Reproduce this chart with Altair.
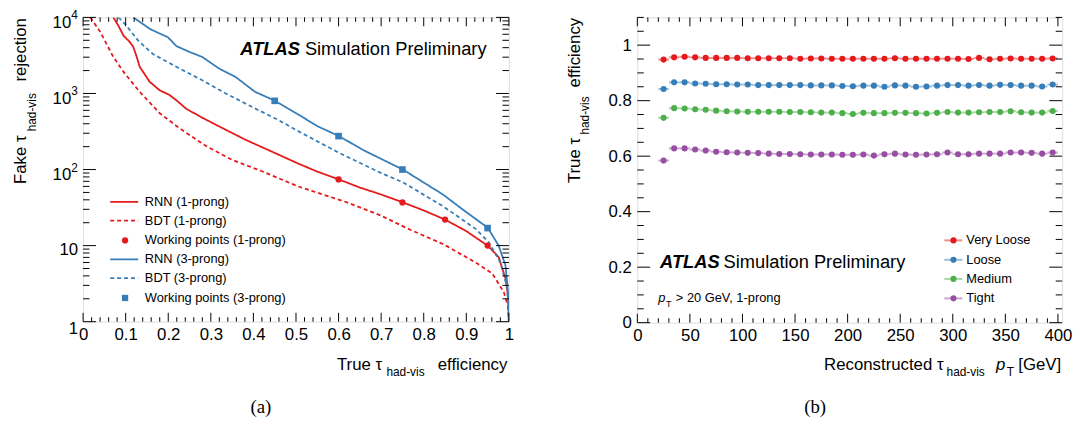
import altair as alt
import pandas as pd

# ---------------- data : panel (a) ROC curves ----------------
rnn1_eff = [0.071, 0.083, 0.095, 0.110, 0.118, 0.126, 0.133, 0.141, 0.156, 0.180, 0.203, 0.219,
            0.242, 0.280, 0.319, 0.381, 0.458, 0.505, 0.550, 0.601, 0.650, 0.700, 0.751, 0.800,
            0.850, 0.900, 0.950, 0.976, 0.992, 0.999, 1.0]
rnn1_rej = [10000, 7760, 5750, 4730, 4080, 3020, 2240, 1920, 1430, 1100, 955, 815,
            630, 480, 370, 247, 158, 120, 94, 74, 58, 47, 37, 29,
            22, 15.5, 10, 7.1, 3.7, 2.0, 1.0]

bdt1_eff = [0.017, 0.041, 0.071, 0.095, 0.133, 0.180, 0.226, 0.288, 0.350, 0.420, 0.505, 0.620,
            0.698, 0.767, 0.845, 0.922, 0.961, 0.988, 0.998, 1.0]
bdt1_rej = [10000, 6350, 3020, 1920, 1050, 550, 350, 205, 134, 95, 60, 37,
            25, 16.3, 10.5, 6.0, 4.3, 2.45, 1.6, 1.0]

rnn3_eff = [0.118, 0.157, 0.178, 0.199, 0.219, 0.250, 0.280, 0.319, 0.358, 0.404, 0.451, 0.505,
            0.551, 0.601, 0.659, 0.751, 0.845, 0.891, 0.934, 0.950, 0.976, 0.992, 0.998, 1.0]
rnn3_rej = [10000, 7050, 6200, 5500, 4200, 3510, 3020, 2130, 1650, 1050, 800, 530,
            370, 275, 179, 100, 47, 30, 20, 17.3, 10, 5.5, 2.5, 1.0]

bdt3_eff = [0.083, 0.102, 0.130, 0.164, 0.219, 0.280, 0.335, 0.404, 0.458, 0.505, 0.601, 0.698,
            0.751, 0.845, 0.922, 0.953, 0.980, 0.996, 1.0]
bdt3_rej = [10000, 7770, 4900, 3300, 2240, 1490, 1000, 635, 450, 320, 166, 91,
            68, 33, 16.6, 11, 6, 2.8, 1.0]

wp1_eff = [0.60, 0.75, 0.85, 0.95]
wp1_rej = [74, 37, 22, 10]
wp3_eff = [0.45, 0.60, 0.75, 0.95]
wp3_rej = [800, 275, 100, 17]

curve_names = ["RNN (1-prong)", "BDT (1-prong)", "RNN (3-prong)", "BDT (3-prong)"]
legend_a = ["RNN (1-prong)", "BDT (1-prong)", "Working points (1-prong)",
            "RNN (3-prong)", "BDT (3-prong)", "Working points (3-prong)"]

# ---------------- data : panel (b) efficiency vs pT ----------------
pt_centers = list(range(25, 400, 10))
eff_very_loose = [0.948, 0.956, 0.958, 0.956, 0.954, 0.954, 0.954, 0.954, 0.953, 0.953, 0.953, 0.953, 0.953,
                  0.951, 0.952, 0.952, 0.951, 0.951, 0.951, 0.951, 0.951, 0.951, 0.953, 0.951, 0.951, 0.951,
                  0.951, 0.951, 0.951, 0.950, 0.954, 0.949, 0.951, 0.952, 0.951, 0.951, 0.951, 0.952]
eff_loose = [0.842, 0.866, 0.866, 0.862, 0.861, 0.859, 0.859, 0.858, 0.858, 0.856, 0.856, 0.856, 0.856,
             0.856, 0.855, 0.855, 0.855, 0.853, 0.852, 0.854, 0.854, 0.850, 0.855, 0.854, 0.850, 0.851,
             0.854, 0.856, 0.856, 0.854, 0.856, 0.854, 0.857, 0.856, 0.854, 0.854, 0.851, 0.858]
eff_medium = [0.738, 0.773, 0.772, 0.769, 0.767, 0.764, 0.762, 0.761, 0.760, 0.760, 0.760, 0.760, 0.759,
              0.759, 0.758, 0.757, 0.757, 0.755, 0.752, 0.756, 0.755, 0.755, 0.756, 0.756, 0.755, 0.754,
              0.756, 0.759, 0.757, 0.757, 0.758, 0.759, 0.759, 0.762, 0.758, 0.757, 0.757, 0.763]
eff_tight = [0.584, 0.628, 0.628, 0.624, 0.620, 0.616, 0.614, 0.613, 0.612, 0.611, 0.609, 0.608, 0.608,
             0.607, 0.606, 0.606, 0.606, 0.605, 0.605, 0.606, 0.602, 0.607, 0.609, 0.606, 0.605, 0.606,
             0.607, 0.613, 0.607, 0.607, 0.609, 0.609, 0.609, 0.613, 0.613, 0.612, 0.609, 0.613]
wp_names = ["Very Loose", "Loose", "Medium", "Tight"]

# ---------------- axis tick values ----------------
a_x_major = [0, 0.1, 0.2, 0.3, 0.4, 0.5, 0.6, 0.7, 0.8, 0.9, 1]
a_x_minor = [round(i * 0.02, 2) for i in range(51) if i % 5 != 0]
a_y_major = [1, 10, 100, 1000, 10000]
a_y_minor = [m * d for d in [1, 10, 100, 1000] for m in range(2, 10)]
b_x_major = [0, 50, 100, 150, 200, 250, 300, 350, 400]
b_x_minor = [v for v in range(10, 401, 10) if v % 50 != 0]
b_y_major = [0, 0.2, 0.4, 0.6, 0.8, 1]
b_y_minor = [round(i * 0.05, 2) for i in range(23) if i % 4 != 0]

# ---------------- style ----------------
FONT = "Liberation Sans"
SERIF = "Liberation Serif"
RED, BLUE, GREEN, PURPLE = "#e41a1c", "#377eb8", "#4daf4a", "#984ea3"
WA, HA = 431, 308
WB, HB = 430, 309


def txt(s, x, y, size=17, align="left", baseline="alphabetic", angle=0, font=FONT,
        weight="normal", style="normal", color="black"):
    kw = dict(align=align, baseline=baseline, font=font, fontSize=size, fontWeight=weight,
              fontStyle=style, color=color)
    if angle:
        kw["angle"] = angle
    return alt.Chart(pd.DataFrame({"t": [s]})).mark_text(**kw).encode(
        x=alt.value(x), y=alt.value(y), text="t:N")


def tick_layers(xs, ys, axx, axy, W, H, xmaj, xmin, ymaj, ymin, xlen, ylen):
    out = []
    for vals, L in [(xmaj, xlen), (xmin, xlen / 2)]:
        base = alt.Chart(pd.DataFrame({"v": vals})).mark_rule(color="black", strokeWidth=1)
        xe = alt.X("v:Q", scale=xs, axis=axx)
        out.append(base.encode(x=xe, y=alt.value(H), y2=alt.value(H - L)))
        out.append(base.encode(x=xe, y=alt.value(0), y2=alt.value(L)))
    for vals, L in [(ymaj, ylen), (ymin, ylen / 2)]:
        base = alt.Chart(pd.DataFrame({"v": vals})).mark_rule(color="black", strokeWidth=1)
        ye = alt.Y("v:Q", scale=ys, axis=axy)
        out.append(base.encode(y=ye, x=alt.value(0), x2=alt.value(L)))
        out.append(base.encode(y=ye, x=alt.value(W), x2=alt.value(W - L)))
    return out


# ================= panel (a) =================
xsA = alt.Scale(domain=[0, 1], nice=False, zero=False)
ysA = alt.Scale(type="log", domain=[1, 10000], nice=False)

axA_x = alt.Axis(values=a_x_major, format="~g", ticks=False, domain=False, grid=False,
                 labelFont=FONT, labelFontSize=17, labelColor="black", labelPadding=5,
                 labelFlush=False, labelOverlap=False, title=None)

frames = []
for name, e, r in zip(curve_names, [rnn1_eff, bdt1_eff, rnn3_eff, bdt3_eff],
                      [rnn1_rej, bdt1_rej, rnn3_rej, bdt3_rej]):
    frames.append(pd.DataFrame({"eff": e, "rej": r, "curve": name, "idx": range(len(e))}))
curves = pd.concat(frames, ignore_index=True)

lines = alt.Chart(curves).mark_line(strokeWidth=1.8, clip=True).encode(
    x=alt.X("eff:Q", scale=xsA, axis=axA_x),
    y=alt.Y("rej:Q", scale=ysA, axis=None),
    color=alt.Color("curve:N", scale=alt.Scale(domain=curve_names, range=[RED, RED, BLUE, BLUE]), legend=None),
    strokeDash=alt.StrokeDash("curve:N", scale=alt.Scale(domain=curve_names,
                              range=[[1, 0], [4, 3], [1, 0], [4, 3]]), legend=None),
    order=alt.Order("idx:Q"),
)
wp1 = alt.Chart(pd.DataFrame({"eff": wp1_eff, "rej": wp1_rej})).mark_point(
    shape="circle", filled=True, size=40, color=RED, opacity=1).encode(
    x=alt.X("eff:Q", scale=xsA, axis=axA_x), y=alt.Y("rej:Q", scale=ysA, axis=None))
wp3 = alt.Chart(pd.DataFrame({"eff": wp3_eff, "rej": wp3_rej})).mark_point(
    shape="square", filled=True, size=45, color=BLUE, opacity=1).encode(
    x=alt.X("eff:Q", scale=xsA, axis=axA_x), y=alt.Y("rej:Q", scale=ysA, axis=None))

# y labels of the log axis (10 with exponent)
def ylab(vals, texts, x, dy, size, align):
    return alt.Chart(pd.DataFrame({"v": vals, "t": texts})).mark_text(
        align=align, baseline="alphabetic", font=FONT, fontSize=size, dy=dy, color="black").encode(
        x=alt.value(x), y=alt.Y("v:Q", scale=ysA, axis=None), text="t:N")

ylab_plain = ylab([1], ["1"], -5, 12, 17, "right")
ylab_ten = ylab([10], ["10"], -5, 9, 17, "right")
ylab_base = ylab([100, 1000, 10000], ["10", "10", "10"], -12, 11, 17, "right")
ylab_exp = ylab([100, 1000, 10000], ["2", "3", "4"], -12, 2, 12, "left")

layers_a = [lines, wp1, wp3, ylab_plain, ylab_ten, ylab_base, ylab_exp]
layers_a += tick_layers(xsA, ysA, axA_x, None, WA, HA, a_x_major, a_x_minor, a_y_major, a_y_minor, 9, 13)

# legend (a)
rows_a = [186.7, 205.7, 225.7, 245.0, 264.0, 284.0]
kinds = [("line", RED, [1, 0]), ("line", RED, [4, 3]), ("circle", RED, None),
         ("line", BLUE, [1, 0]), ("line", BLUE, [4, 3]), ("square", BLUE, None)]
one = pd.DataFrame({"k": [0]})
for lab, yy, (kind, col, dash) in zip(legend_a, rows_a, kinds):
    if kind == "line":
        layers_a.append(alt.Chart(one).mark_rule(color=col, strokeWidth=1.8, strokeDash=dash).encode(
            x=alt.value(27.5), x2=alt.value(55.8), y=alt.value(yy)))
    else:
        layers_a.append(alt.Chart(one).mark_point(shape=kind, filled=True, opacity=1, color=col,
                                                  size=40).encode(
            x=alt.value(42.5), y=alt.value(yy)))
    layers_a.append(txt(lab, 62.5, yy, size=13, baseline="middle"))

# ATLAS label (a)
layers_a.append(txt("ATLAS", 159.2, 38.4, size=18.5, weight="bold", style="italic"))
layers_a.append(txt("Simulation Preliminary", 224.5, 38.4, size=18.5))

# axis titles (a)
layers_a.append(txt("True τ", 257, 356.7))
layers_a.append(txt("had-vis", 307, 362.7, size=12))
layers_a.append(txt("efficiency", 429.5, 356.7, align="right"))
layers_a.append(txt("rejection", -62.5, 0.7, align="right", baseline="middle", angle=270))
layers_a.append(txt("had-vis", -51.5, 76.7, size=12, align="right", baseline="middle", angle=270))
layers_a.append(txt("Fake τ", -62.5, 119.5, align="right", baseline="middle", angle=270))
layers_a.append(txt("(a)", 180, 394, size=19, align="center", baseline="middle", font=SERIF))

panel_a = alt.layer(*layers_a).properties(width=WA, height=HA)

# ================= panel (b) =================
xsB = alt.Scale(domain=[0, 404], nice=False, zero=False)
ysB = alt.Scale(domain=[0, 1.1], nice=False, zero=False)
colors_b = [RED, BLUE, GREEN, PURPLE]

rows = []
for name, vals in zip(wp_names, [eff_very_loose, eff_loose, eff_medium, eff_tight]):
    for p, v in zip(pt_centers, vals):
        rows.append({"pt": p, "eff": v, "wp": name})
dfb = pd.DataFrame(rows)

axB_x = alt.Axis(values=b_x_major, ticks=False, domain=False, grid=False, labelFont=FONT,
                 labelFontSize=17, labelColor="black", labelPadding=5, labelFlush=False,
                 labelOverlap=False, title=None)
axB_y = alt.Axis(values=b_y_major, format="~g", ticks=False, domain=False, grid=False, labelFont=FONT,
                 labelFontSize=17, labelColor="black", labelPadding=6, labelFlush=False,
                 labelOverlap=False, title=None)
colB = alt.Color("wp:N", scale=alt.Scale(domain=wp_names, range=colors_b), legend=None)

bars = alt.Chart(dfb).transform_calculate(lo="datum.pt - 5", hi="datum.pt + 5").mark_rule(
    strokeWidth=2, opacity=0.5).encode(
    x=alt.X("lo:Q", scale=xsB, axis=axB_x), x2="hi:Q",
    y=alt.Y("eff:Q", scale=ysB, axis=axB_y), color=colB)
pts = alt.Chart(dfb).mark_circle(size=38, opacity=1).encode(
    x=alt.X("pt:Q", scale=xsB, axis=axB_x), y=alt.Y("eff:Q", scale=ysB, axis=axB_y), color=colB)

layers_b = [bars, pts]
layers_b += tick_layers(xsB, ysB, axB_x, axB_y, WB, HB, b_x_major, b_x_minor, b_y_major, b_y_minor, 9, 13)

rows_b = [225.7, 245.4, 264.7, 284.4]
for lab, yy, col in zip(wp_names, rows_b, colors_b):
    layers_b.append(alt.Chart(one).mark_rule(color=col, strokeWidth=2, opacity=0.5).encode(
        x=alt.value(310.7), x2=alt.value(329), y=alt.value(yy)))
    layers_b.append(alt.Chart(one).mark_circle(color=col, size=38, opacity=1).encode(
        x=alt.value(320), y=alt.value(yy)))
    layers_b.append(txt(lab, 333, yy, size=13, baseline="middle"))

layers_b.append(txt("ATLAS", 23, 253.4, size=18.5, weight="bold", style="italic"))
layers_b.append(txt("Simulation Preliminary", 87.3, 253.4, size=18.5))
layers_b.append(txt("p", 21.3, 287.7, size=13, style="italic"))
layers_b.append(txt("T", 29, 292.7, size=9))
layers_b.append(txt("> 20 GeV, 1-prong", 39, 287.7, size=13))

layers_b.append(txt("Reconstructed τ", 310, 356.7, align="right"))
layers_b.append(txt("had-vis", 313, 362.7, size=12))
layers_b.append(txt("p", 363, 356.7, style="italic"))
layers_b.append(txt("T", 374, 362.7, size=12))
layers_b.append(txt("[GeV]", 429, 356.7, align="right"))
layers_b.append(txt("efficiency", -63, 0.4, align="right", baseline="middle", angle=270))
layers_b.append(txt("had-vis", -53, 80, size=12, align="right", baseline="middle", angle=270))
layers_b.append(txt("True τ", -63, 122, align="right", baseline="middle", angle=270))
layers_b.append(txt("(b)", 180, 394, size=19, align="center", baseline="middle", font=SERIF))

panel_b = alt.layer(*layers_b).properties(width=WB, height=HB)

chart = alt.hconcat(panel_a, panel_b, spacing=51).resolve_scale(
    color="independent", strokeDash="independent"
).properties(
    padding={"left": 4, "top": -2, "right": 0, "bottom": 0}
).configure_view(stroke="black", strokeWidth=1.2).configure(background="white")

chart.save("out.html", embed_options={"renderer": "svg", "actions": False})
